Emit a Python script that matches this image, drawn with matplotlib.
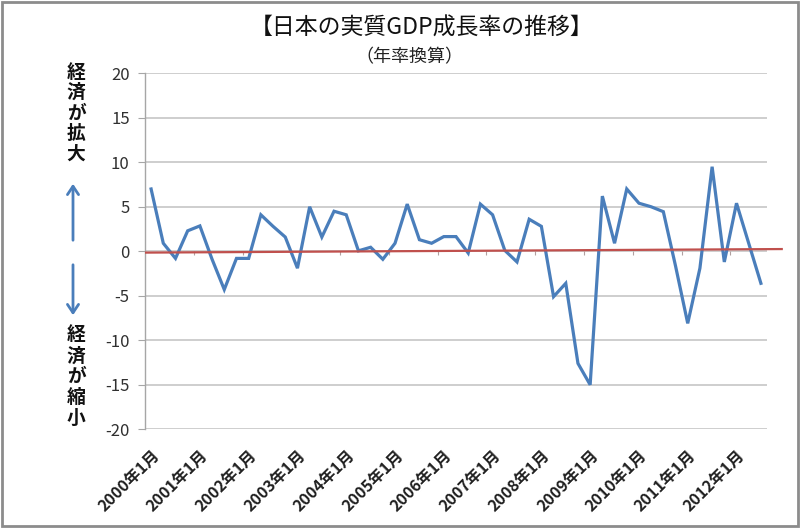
import numpy as np
import matplotlib
matplotlib.use('Agg')
import matplotlib.pyplot as plt
from matplotlib.patches import Rectangle, FancyArrowPatch

plt.rcParams['font.family'] = ['Noto Sans CJK JP', 'DejaVu Sans']

# quarterly real GDP growth (annualised, %), 2000Q1 .. 2012Q3
growth = [7.0, 0.9, -0.8, 2.3, 2.85, -0.9, -4.3, -0.8, -0.8, 4.1, 2.8, 1.6,
          -1.9, 5.0, 1.6, 4.5, 4.1, 0.05, 0.45, -0.9, 0.9, 5.3, 1.3, 0.9,
          1.65, 1.65, -0.2, 5.3, 4.1, 0.1, -1.2, 3.6, 2.8, -5.1, -3.6, -12.6,
          -15.0, 6.2, 0.9, 7.0, 5.4, 5.0, 4.45, -1.65, -8.1, -1.9, 9.5, -1.2,
          5.4, 0.9, -3.6]
years = list(range(2000, 2013))
year_labels = [f'{y}年1月' for y in years]
zero_line = [-0.15, 0.25]   # red reference line, left / right end
y_ticks = [-20, -15, -10, -5, 0, 5, 10, 15, 20]

title = '【日本の実質GDP成長率の推移】'
subtitle = '（年率換算）'
up_text = '経済が拡大'
down_text = '経済が縮小'

blue = '#4a7ebb'
red = '#c0504d'
grid_c = '#c6c6c6'

fig = plt.figure(figsize=(8, 5.28), dpi=100)
ax = fig.add_axes([0.18125, 0.187, 0.7775, 0.6742])

x = np.arange(len(growth))
ax.plot(x, growth, color=blue, lw=2.3, zorder=3, solid_joinstyle='miter')

# red zero line, runs a bit past the plot on the right
ax.plot([-0.5, len(growth) + 0.8], zero_line, color=red, lw=1.6, zorder=4,
        clip_on=False, solid_capstyle='butt')

# small year tick marks hanging under the zero line
year_idx = np.arange(0, len(growth), 4)
ax.vlines(year_idx[1:] - 0.5, -0.45, 0, color='#b0a0a0', lw=0.8, zorder=2)

ax.set_xlim(-0.5, len(growth) - 0.5)
ax.set_ylim(-20, 20)
ax.set_yticks(y_ticks)
ax.set_yticklabels([str(v) for v in y_ticks], fontsize=12, color='#303030')
ax.yaxis.grid(True, color=grid_c, lw=1.2)
ax.set_axisbelow(True)
for s in ['top', 'right', 'bottom']:
    ax.spines[s].set_visible(False)
ax.spines['left'].set_color('#a6a6a6')
ax.spines['left'].set_linewidth(1.0)
ax.tick_params(axis='y', length=5, color='#a6a6a6', pad=6)

ax.set_xticks(year_idx)
ax.set_xticklabels(year_labels, rotation=45, ha='right', va='top',
                   rotation_mode='anchor', fontsize=11.5, fontweight='bold',
                   color='#202020')
ax.tick_params(axis='x', length=0, pad=13)

# titles
fig.text(0.527, 0.946, title, ha='center', va='center', fontsize=16.5, color='#111111')
fig.text(0.512, 0.892, subtitle, ha='center', va='center', fontsize=13, color='#222222')

# vertical side captions
for i, ch in enumerate(up_text):
    fig.text(76 / 800, 1 - (72 + i * 20.5) / 528, ch, ha='center', va='center',
             fontsize=13.5, fontweight='bold', color='#111111')
for i, ch in enumerate(down_text):
    fig.text(76 / 800, 1 - (335 + i * 20.8) / 528, ch, ha='center', va='center',
             fontsize=13.5, fontweight='bold', color='#111111')

up = FancyArrowPatch((73 / 800, 1 - 243 / 528), (73 / 800, 1 - 181 / 528),
                     transform=fig.transFigure, arrowstyle='->,head_length=6,head_width=4',
                     color=blue, lw=2.0)
down = FancyArrowPatch((73 / 800, 1 - 262 / 528), (73 / 800, 1 - 318 / 528),
                       transform=fig.transFigure, arrowstyle='->,head_length=6,head_width=4',
                       color=blue, lw=2.0)
fig.patches.extend([up, down])

# grey frame around the picture
fig.patches.append(Rectangle((0.002, 0.004), 0.996, 0.992, transform=fig.transFigure,
                             fill=False, edgecolor='#8c8c8c', lw=2))

fig.savefig('out.png', dpi=100)
